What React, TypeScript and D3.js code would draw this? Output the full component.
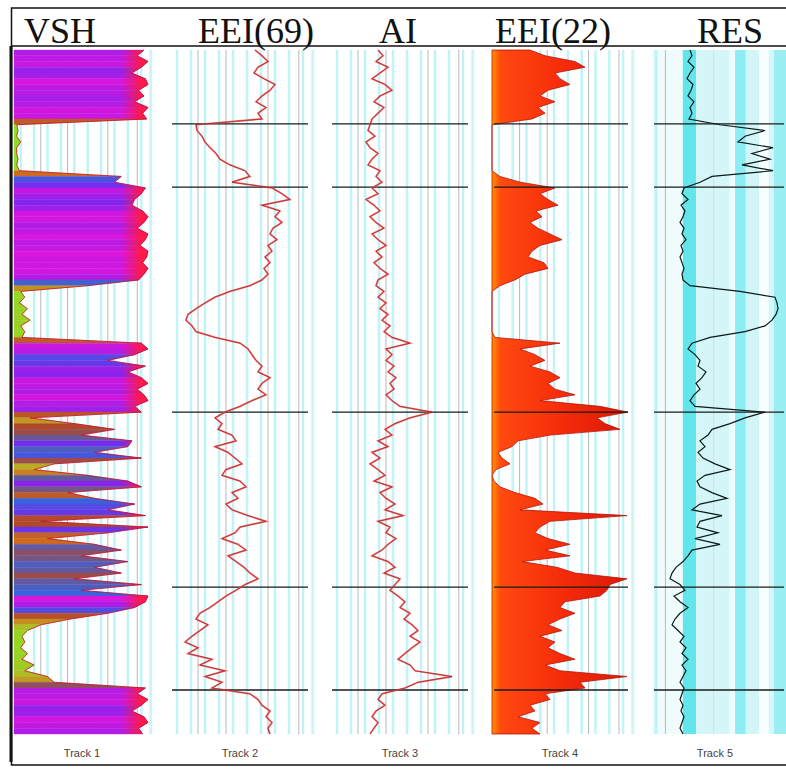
import React from 'react';
import * as d3 from 'd3';

// depth samples (m) and formation tops
const depth = d3.range(2000, 2240, 2);
const formationTops = [2025.7, 2047.7, 2126, 2186.9, 2222.7];

const trackTitles = ['VSH', 'EEI(69)', 'AI', 'EEI(22)', 'RES'];
const trackLabels = ['Track 1', 'Track 2', 'Track 3', 'Track 4', 'Track 5'];

// track 1: shale volume (fraction)
const vsh = [
  0.97, 0.92, 1.0, 0.95, 0.88, 0.98, 1.0, 0.93, 0.97, 0.9, 1.0, 0.96, 0.99,
  0.02,
  0.03, 0.02, 0.05, 0.02, 0.02, 0.03, 0.02, 0.04,
  0.8, 0.75,
  0.98, 0.95, 0.9, 0.88, 0.96, 1.0, 0.97, 0.92, 1.0, 0.98, 0.94, 1.0, 0.99, 0.96, 1.0, 0.97, 0.93,
  0.55,
  0.05, 0.08, 0.04, 0.1, 0.06, 0.12, 0.05, 0.08, 0.06,
  0.95, 1.0, 0.9, 0.7, 0.98, 0.85, 0.95, 1.0, 0.92, 0.97, 1.0, 0.9,
  0.95,
  0.12, 0.45, 0.75, 0.5, 0.88, 0.85, 0.6, 0.95, 0.3, 0.15, 0.55, 0.85, 0.95, 0.4, 0.6,
  0.9, 0.7, 0.98, 0.2, 1.0, 0.7, 0.25, 0.6, 0.8, 0.5, 0.85, 0.6, 0.8, 0.45,
  0.95, 0.5, 1.0, 0.98, 0.9, 0.7,
  0.42, 0.2, 0.1, 0.06, 0.08, 0.05, 0.1, 0.06, 0.15, 0.08, 0.25, 0.3,
  0.98, 0.92, 1.0, 0.95, 0.88, 0.97, 1.0, 0.93, 0.96,
];

// track 2: EEI at 69 deg (relative units, 0-140)
const eei69 = [
  85, 92, 98, 88, 84, 94, 105, 100, 92, 86, 96, 88, 92,
  26, 27, 32, 35, 40, 46, 50, 60, 75, 80, 62,
  102, 112, 120, 92, 110, 105, 112, 103, 100, 107, 98, 102, 95, 100, 94, 98, 92,
  80, 60, 45, 35, 26, 18, 16, 22, 26, 45, 70, 78, 82, 86, 92, 88, 100, 92, 88, 96, 82, 70,
  55, 45, 52, 48, 62, 66, 45, 58, 65, 72, 56, 52, 70, 76, 62, 68, 56, 62, 78, 96, 70, 65, 52, 68, 76, 58, 66, 74, 80, 88,
  75, 66, 56, 48, 40, 30, 26, 38, 30, 22, 15, 28, 18, 42, 30, 55, 35, 52, 42,
  80, 88, 92, 100, 96, 102, 98, 100,
];

// track 3: acoustic impedance (relative units, 0-140)
const ai = [
  48, 53, 46, 58, 50, 42, 55, 62, 50, 44, 54, 48, 42,
  40, 38, 45, 36, 40, 48, 42, 38, 50, 46, 52,
  42, 48, 36, 44, 50, 40, 46, 54, 42, 48, 56, 46, 52, 44, 50, 58, 48, 46, 54, 48, 56, 50, 58, 52, 60, 54, 62,
  80, 56, 62, 56, 64, 58, 66, 60, 64, 56, 62, 70,
  102, 80, 65, 55, 62, 48, 58, 42, 50, 40, 48, 55, 44, 62, 50, 56, 65, 55, 73, 48, 60, 56, 66, 58, 52, 42, 58, 65, 54, 70,
  65, 60, 68, 75, 70, 80, 74, 82, 88, 80, 90, 82, 75, 68, 80, 85, 122, 88, 75,
  52, 48, 55, 46, 42, 48, 44, 40,
];

// track 4: EEI at 22 deg (relative units, 0-138)
const eei22 = [
  38, 53, 83, 93, 63, 68, 78, 56, 48, 63, 46, 53, 40,
  0, 0, 0, 0, 0, 0, 0, 0, 0, 8, 28,
  63, 48, 56, 66, 44, 50, 38, 46, 58, 70, 48, 40, 36, 52, 56, 33, 23,
  8, 0, 0, 0, 0, 0, 0, 0, 0, 3,
  68, 28, 43, 53, 38, 58, 68, 56, 63, 83, 48, 108, 136,
  105, 113, 128, 58, 26, 20, 6, 10, 18, 4, 0, 2, 8, 23, 43, 51, 28, 135, 58, 48, 43, 56, 78, 53, 78, 30, 65, 83, 135,
  118, 115, 108, 73, 68, 83, 68, 56, 70, 48, 63, 56, 68, 83, 53, 68, 135, 88, 93,
  53, 58, 38, 43, 26, 48, 40, 48,
];

// track 5: resistivity (relative units, 0-134)
const res = [
  38, 40, 36, 42, 38, 35, 41, 39, 36, 42, 38, 40, 37,
  68, 113, 93, 86, 121, 100, 118, 90, 121, 60, 48,
  32, 30, 36, 29, 33, 31, 28, 32, 30, 34, 29, 31, 28, 30, 32, 30, 31,
  38, 88, 123, 125, 126, 124, 120, 113, 93, 58,
  40, 36, 43, 48, 46, 54, 50, 44, 48, 42, 38, 43,
  113, 93, 78, 60, 56, 48, 53, 46, 51, 63, 78, 53, 45, 48, 60, 75, 48, 40, 70, 48, 45, 66, 43, 68, 40, 36, 31, 24, 20, 18,
  28, 33, 22, 28, 36, 28, 23, 20, 26, 32, 28, 34, 30, 36, 30, 34, 31, 28, 32, 30, 28, 31, 29, 32, 30, 28, 31,
];

const W = 786;
const H = 769;
const TOP = 50;
const BOTTOM = 734;
const tracks = [
  { x0: 14, x1: 148, max: 1 },
  { x0: 170, x1: 310, max: 140 },
  { x0: 330, x1: 470, max: 140 },
  { x0: 492, x1: 630, max: 138 },
  { x0: 652, x1: 786, max: 134 },
];
const titleX = [60, 256, 398, 553, 730];
const labelX = [82, 240, 400, 560, 715];

const y = d3.scaleLinear().domain([depth[0], depth[depth.length - 1]]).range([TOP, BOTTOM]);
const xs = tracks.map((t) => d3.scaleLinear().domain([0, t.max]).range([t.x0, t.x1]));

const vshColor = d3
  .scaleLinear<string>()
  .domain([0, 0.2, 0.4, 0.6, 0.75, 0.88, 1])
  .range(['#86e820', '#b4b424', '#d0701e', '#b0482c', '#3a62dc', '#7a26f0', '#e014dc']);

const Grid = ({ i }: { i: number }) => {
  const t = tracks[i];
  const x = d3.scaleLinear().domain([0, 1]).range([t.x0, t.x1]);
  if (i === 4) {
    const bands = [
      [0, 0.23, '#f0fcfc'],
      [0.23, 0.33, '#62e6ec'],
      [0.33, 0.58, '#d4f6f8'],
      [0.58, 0.62, '#eefcfc'],
      [0.62, 0.7, '#8cedf2'],
      [0.7, 0.8, '#d2f5f7'],
      [0.8, 0.87, '#f6fefe'],
      [0.87, 0.91, '#d8f6f8'],
      [0.91, 1, '#9aeff3'],
    ] as const;
    return (
      <g>
        {bands.map(([a, b, c], k) => (
          <rect key={k} x={x(a)} y={TOP} width={x(b) - x(a)} height={BOTTOM - TOP} fill={c} />
        ))}
        <line x1={x(0.03)} x2={x(0.03)} y1={TOP} y2={BOTTOM} stroke="#bff3f6" strokeWidth={3} />
        <line x1={x(0.1)} x2={x(0.1)} y1={TOP} y2={BOTTOM} stroke="#b8b8b8" strokeWidth={1} />
        <line x1={x(0.46)} x2={x(0.46)} y1={TOP} y2={BOTTOM} stroke="#dcdcdc" strokeWidth={1} />
      </g>
    );
  }
  const cyan = d3.range(10).map((k) => (k + 0.5) / 10);
  const gray = [0.2, 0.4, 0.7, 0.92];
  return (
    <g>
      {cyan.map((f) => (
        <line key={'c' + f} x1={x(f)} x2={x(f)} y1={TOP} y2={BOTTOM} stroke="#c0f4f8" strokeWidth={2.5} />
      ))}
      {gray.map((f) => (
        <line key={'g' + f} x1={x(f)} x2={x(f)} y1={TOP} y2={BOTTOM} stroke="#b8b8b8" strokeWidth={1} />
      ))}
      <line x1={x(1.02)} x2={x(1.02)} y1={TOP} y2={BOTTOM} stroke="#cdf5f8" strokeWidth={3} />
    </g>
  );
};

export default function App() {
  const pts = (vals: number[]) => vals.map((v, i) => [depth[i], v] as [number, number]);

  // track 1 coloured fill, one polygon per depth interval
  const vshArea = d3
    .area<[number, number]>()
    .y((d) => y(d[0]))
    .x0(xs[0](0))
    .x1((d) => xs[0](d[1]));
  const vshSegs = depth.slice(0, -1).map((d, i) => ({
    path: vshArea([
      [d, vsh[i]],
      [depth[i + 1], vsh[i + 1]],
    ]) as string,
    color: vshColor((vsh[i] + vsh[i + 1]) / 2),
  }));

  const lineFor = (k: number) =>
    d3
      .line<[number, number]>()
      .y((d) => y(d[0]))
      .x((d) => xs[k](d[1]));

  const eeiArea = d3
    .area<[number, number]>()
    .y((d) => y(d[0]))
    .x0(xs[3](0))
    .x1((d) => xs[3](d[1]));

  return (
    <svg width={W} height={H} style={{ position: 'absolute', left: 0, top: 0, background: '#fff' }}>
      <defs>
        <linearGradient id="vshTip" gradientUnits="userSpaceOnUse" x1={tracks[0].x0} x2={tracks[0].x1} y1={0} y2={0}>
          <stop offset={0.8} stopColor="#ff1a3a" stopOpacity={0} />
          <stop offset={0.95} stopColor="#ff1a3a" stopOpacity={0.9} />
        </linearGradient>
        <linearGradient id="eeiFill" gradientUnits="userSpaceOnUse" x1={tracks[3].x0} x2={tracks[3].x1} y1={0} y2={0}>
          <stop offset={0} stopColor="#ff9400" />
          <stop offset={0.06} stopColor="#ff4a10" />
          <stop offset={0.5} stopColor="#f62c0a" />
          <stop offset={1} stopColor="#d81808" />
        </linearGradient>
      </defs>

      {tracks.map((_, i) => (
        <Grid key={i} i={i} />
      ))}

      {/* track 1 */}
      <g>
        {vshSegs.map((s, i) => (
          <path key={i} d={s.path} fill={s.color} stroke={s.color} strokeWidth={0.4} />
        ))}
        <path d={vshArea(pts(vsh)) as string} fill="url(#vshTip)" />
        <path d={lineFor(0)(pts(vsh)) as string} fill="none" stroke="#c8102e" strokeWidth={1} opacity={0.8} />
      </g>

      {/* track 4 */}
      <path d={eeiArea(pts(eei22)) as string} fill="url(#eeiFill)" stroke="#b8140a" strokeWidth={0.8} />

      {/* formation tops */}
      {tracks.slice(1).map((t, k) =>
        formationTops.map((d) => (
          <line key={k + '-' + d} x1={t.x0 + 2} x2={t.x1 - 2} y1={y(d)} y2={y(d)} stroke="#1a1a1a" strokeWidth={1.4} />
        ))
      )}

      {/* curves */}
      {[
        { k: 1, vals: eei69 },
        { k: 2, vals: ai },
      ].map(({ k, vals }) => (
        <g key={k}>
          <path d={lineFor(k)(pts(vals)) as string} fill="none" stroke="#ff4a4a" strokeWidth={1.8} opacity={0.8} />
          <path d={lineFor(k)(pts(vals)) as string} fill="none" stroke="#7a1a1a" strokeWidth={0.6} />
        </g>
      ))}
      <path d={lineFor(4)(pts(res)) as string} fill="none" stroke="#0c1a1a" strokeWidth={1.2} />

      {/* frame and header */}
      <rect x={11.5} y={8} width={W} height={757} fill="none" stroke="#111" strokeWidth={1.5} />
      <line x1={11} x2={W} y1={46} y2={46} stroke="#111" strokeWidth={1.5} />
      <line x1={11} x2={11} y1={46} y2={762} stroke="#111" strokeWidth={3} />
      {trackTitles.map((t, i) => (
        <text
          key={t}
          x={titleX[i]}
          y={43}
          textAnchor="middle"
          fontFamily="'Liberation Serif', 'DejaVu Serif', serif"
          fontSize={36}
          fill="#111"
        >
          {t}
        </text>
      ))}
      {trackLabels.map((t, i) => (
        <text
          key={t}
          x={labelX[i]}
          y={757}
          textAnchor="middle"
          fontFamily="'Liberation Sans Narrow', 'Liberation Sans', sans-serif"
          fontSize={11}
          fill="#444"
        >
          {t}
        </text>
      ))}
    </svg>
  );
}
